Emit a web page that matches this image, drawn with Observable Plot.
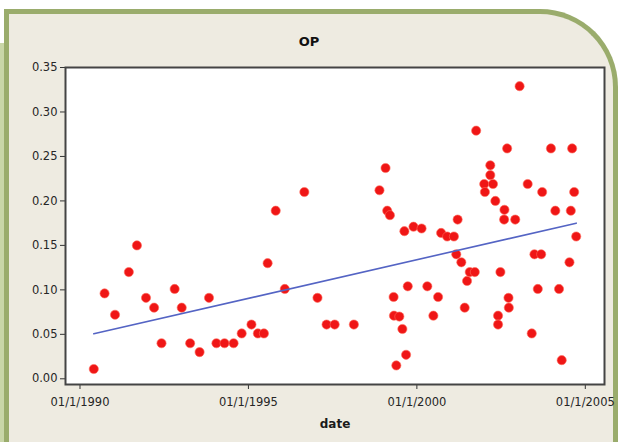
<!DOCTYPE html>
<html>
<head>
<meta charset="utf-8">
<script src="https://cdn.jsdelivr.net/npm/d3@7"></script>
<script src="https://cdn.jsdelivr.net/npm/@observablehq/plot@0.6"></script>
<style>
  html, body { margin: 0; padding: 0; background: #ffffff; }
  #wrap { position: relative; width: 618px; height: 442px; overflow: hidden; font-family: "DejaVu Sans", sans-serif; }
  #strip { position: absolute; left: 0; top: 43px; width: 5px; height: 420px; background: #c9d6a8; }
  #panel { position: absolute; left: 4px; top: 9px; width: 604px; height: 460px; background: #eeebe1;
           border: 5px solid #9aac6c; border-bottom: none; border-top-right-radius: 78px; }
  #title { position: absolute; left: 0; top: 34px; width: 618px; text-align: center; font-weight: bold; font-size: 13px; color: #111; }
  #chart { position: absolute; left: 0; top: 0; }
  #chart svg { background: transparent !important; }
  [aria-label="x-axis label"] text { font-weight: bold; fill: #1a1a1a; font-size: 12px; }
  [aria-label="x-axis tick label"] text, [aria-label="y-axis tick label"] text { fill: #262626; }
</style>
</head>
<body>
<div id="wrap">
  <div id="strip"></div>
  <div id="panel"></div>
  <div id="title">OP</div>
  <div id="chart"></div>
</div>
<script>
// decimal years
const years = [
  1990.41, 1990.73, 1991.04, 1991.45, 1991.69, 1991.96, 1992.20, 1992.42, 1992.81, 1993.02,
  1993.27, 1993.55, 1993.83, 1994.05, 1994.29, 1994.56, 1994.80, 1995.09, 1995.28, 1995.46,
  1995.57, 1995.81, 1996.08, 1996.66, 1997.05, 1997.32, 1997.56, 1998.13, 1998.89, 1999.07,
  1999.12, 1999.20, 1999.31, 1999.32, 1999.39, 1999.48, 1999.57, 1999.63, 1999.68, 1999.73,
  1999.90, 2000.14, 2000.31, 2000.49, 2000.63, 2000.72, 2000.90, 2001.10, 2001.17, 2001.21,
  2001.32, 2001.42, 2001.49, 2001.57, 2001.72, 2001.76, 2002.00, 2002.02, 2002.18, 2002.18,
  2002.26, 2002.33, 2002.41, 2002.41, 2002.48, 2002.59, 2002.60, 2002.68, 2002.72, 2002.73,
  2002.92, 2003.05, 2003.29, 2003.41, 2003.49, 2003.59, 2003.69, 2003.72, 2003.98, 2004.11,
  2004.22, 2004.30, 2004.53, 2004.57, 2004.61, 2004.67, 2004.73
];
const op = [
  0.011, 0.096, 0.072, 0.120, 0.150, 0.091, 0.080, 0.040, 0.101, 0.080,
  0.040, 0.030, 0.091, 0.040, 0.040, 0.040, 0.051, 0.061, 0.051, 0.051,
  0.130, 0.189, 0.101, 0.210, 0.091, 0.061, 0.061, 0.061, 0.212, 0.237,
  0.189, 0.184, 0.092, 0.071, 0.015, 0.070, 0.056, 0.166, 0.027, 0.104,
  0.171, 0.169, 0.104, 0.071, 0.092, 0.164, 0.160, 0.160, 0.140, 0.179,
  0.131, 0.080, 0.110, 0.120, 0.120, 0.279, 0.219, 0.210, 0.240, 0.229,
  0.219, 0.200, 0.071, 0.061, 0.120, 0.179, 0.190, 0.259, 0.091, 0.080,
  0.179, 0.329, 0.219, 0.051, 0.140, 0.101, 0.140, 0.210, 0.259, 0.189,
  0.101, 0.021, 0.131, 0.189, 0.259, 0.210, 0.160
];
const xTicks = [1990, 1995, 2000, 2005];
const yTicks = [0, 0.05, 0.10, 0.15, 0.20, 0.25, 0.30, 0.35];

const data = years.map((d, i) => ({date: d, op: op[i]}));

const chart = Plot.plot({
  width: 618,
  height: 442,
  marginLeft: 65,
  marginRight: 14,
  marginTop: 67,
  marginBottom: 58,
  style: {fontFamily: "DejaVu Sans, sans-serif", fontSize: "11.5px", color: "#262626", background: "transparent"},
  x: {domain: [1989.57, 2005.57]},
  y: {domain: [-0.0064, 0.35]},
  marks: [
    Plot.frame({fill: "white"}),
    Plot.axisY({ticks: yTicks, tickFormat: d3.format(".2f"), tickSize: 5, tickPadding: 3, label: null, stroke: "#333"}),
    Plot.axisX({ticks: xTicks, tickFormat: d => `01/1/${d}`, tickSize: 5, tickPadding: 8,
                label: "date", labelAnchor: "center", labelArrow: "none", labelOffset: 43, stroke: "#333"}),
    Plot.dot(data, {x: "date", y: "op", r: 4.6, fill: "#ef1616", stroke: "#ff6a5a", strokeWidth: 0.6}),
    Plot.linearRegressionY(data, {x: "date", y: "op", stroke: "#5464c4", strokeWidth: 1.6, ci: 0}),
    Plot.frame({stroke: "#444", strokeWidth: 2})
  ]
});
document.getElementById("chart").appendChild(chart);
</script>
</body>
</html>
